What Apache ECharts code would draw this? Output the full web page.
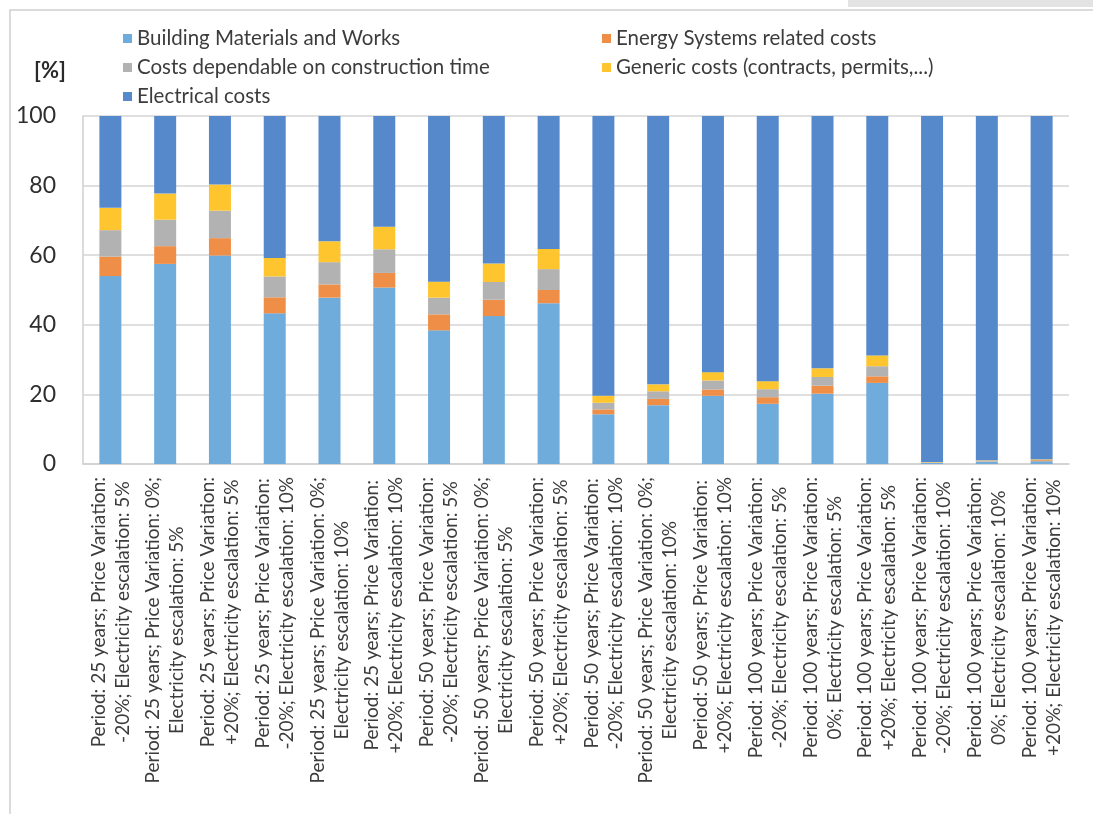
<!DOCTYPE html>
<html>
<head>
<meta charset="utf-8">
<script src="https://cdn.jsdelivr.net/npm/echarts@6/dist/echarts.min.js"></script>
<style>
  html, body { margin: 0; padding: 0; background: #ffffff; }
  #chart { width: 1093px; height: 814px; }
</style>
</head>
<body>
<div id="chart"></div>
<script>
// Scenario labels (line break where the label wraps)
const categories = [
  'Period: 25 years; Price Variation:\n-20%; Electricity escalation: 5%',
  'Period: 25 years; Price Variation: 0%;\nElectricity escalation: 5%',
  'Period: 25 years; Price Variation:\n+20%; Electricity escalation: 5%',
  'Period: 25 years; Price Variation:\n-20%; Electricity escalation: 10%',
  'Period: 25 years; Price Variation: 0%;\nElectricity escalation: 10%',
  'Period: 25 years; Price Variation:\n+20%; Electricity escalation: 10%',
  'Period: 50 years; Price Variation:\n-20%; Electricity escalation: 5%',
  'Period: 50 years; Price Variation: 0%;\nElectricity escalation: 5%',
  'Period: 50 years; Price Variation:\n+20%; Electricity escalation: 5%',
  'Period: 50 years; Price Variation:\n-20%; Electricity escalation: 10%',
  'Period: 50 years; Price Variation: 0%;\nElectricity escalation: 10%',
  'Period: 50 years; Price Variation:\n+20%; Electricity escalation: 10%',
  'Period: 100 years; Price Variation:\n-20%; Electricity escalation: 5%',
  'Period: 100 years; Price Variation:\n0%; Electricity escalation: 5%',
  'Period: 100 years; Price Variation:\n+20%; Electricity escalation: 5%',
  'Period: 100 years; Price Variation:\n-20%; Electricity escalation: 10%',
  'Period: 100 years; Price Variation:\n0%; Electricity escalation: 10%',
  'Period: 100 years; Price Variation:\n+20%; Electricity escalation: 10%'
];

// Cost shares [%] per scenario
const buildingMaterials = [54.0, 57.5, 59.9, 43.3, 47.8, 50.7, 38.4, 42.5, 46.2, 14.3, 16.9, 19.6, 17.3, 20.2, 23.3, 0.3, 0.6, 0.8];
const energySystems     = [5.6, 5.1, 5.0, 4.6, 3.8, 4.2, 4.6, 4.7, 3.8, 1.4, 1.8, 1.8, 1.9, 2.3, 1.9, 0.1, 0.1, 0.3];
const constructionTime  = [7.6, 7.6, 7.9, 6.0, 6.4, 6.8, 4.8, 5.1, 6.0, 1.9, 2.2, 2.6, 2.3, 2.5, 2.9, 0.1, 0.3, 0.2];
const genericCosts      = [6.4, 7.5, 7.5, 5.3, 6.0, 6.5, 4.6, 5.3, 5.8, 2.0, 2.0, 2.4, 2.3, 2.5, 3.1, 0.1, 0.1, 0.1];
const electricalCosts   = [26.4, 22.3, 19.7, 40.8, 36.0, 31.8, 47.6, 42.4, 38.2, 80.4, 77.1, 73.6, 76.2, 72.5, 68.8, 99.4, 98.9, 98.6];

const yTicks = [0, 20, 40, 60, 80, 100];

const seriesNames = [
  'Building Materials and Works',
  'Energy Systems related costs',
  'Costs dependable on construction time',
  'Generic costs (contracts, permits,...)',
  'Electrical costs'
];
const seriesData = [buildingMaterials, energySystems, constructionTime, genericCosts, electricalCosts];
const seriesColors = ['#6FACDB', '#EE8E47', '#B2B2B2', '#FEC52E', '#5689CB'];

const FONT = 'Lato, "Open Sans", sans-serif';
const TEXT = '#3c3c3c';

const chart = echarts.init(document.getElementById('chart'), null, { renderer: 'canvas' });

const legendText = { color: TEXT, fontSize: 20.5, lineHeight: 21, fontFamily: FONT };

chart.setOption({
  animation: false,
  backgroundColor: '#ffffff',
  graphic: [
    { type: 'rect', shape: { x: 848, y: 0, width: 245, height: 7 }, style: { fill: '#e3e3e3' }, silent: true },
    { type: 'polyline', shape: { points: [[10, 814], [10, 10], [1093, 10]] },
      style: { stroke: '#cfcfcf', lineWidth: 1.5, fill: null }, silent: true },
    { type: 'text', left: 34, top: 60,
      style: { text: '[%]', fill: '#2a2a2a', font: 'bold 22px ' + FONT } }
  ],
  legend: [
    {
      orient: 'vertical', left: 118, top: 23, itemGap: 8,
      itemWidth: 9, itemHeight: 9, icon: 'rect',
      textStyle: legendText, selectedMode: false,
      data: [seriesNames[0], seriesNames[2], seriesNames[4]]
    },
    {
      orient: 'vertical', left: 597, top: 23, itemGap: 8,
      itemWidth: 9, itemHeight: 9, icon: 'rect',
      textStyle: legendText, selectedMode: false,
      data: [seriesNames[1], seriesNames[3]]
    }
  ],
  grid: { left: 83, right: 24, top: 116, bottom: 350, containLabel: false },
  xAxis: {
    type: 'category',
    data: categories,
    axisLine: { show: true, lineStyle: { color: '#cfcfcf', width: 1.5 } },
    axisTick: { show: false },
    axisLabel: {
      interval: 0,
      rotate: 90,
      margin: 13,
      color: TEXT,
      fontSize: 19,
      fontFamily: FONT,
      formatter: (v) => v.split('\n').map(s => '{c|' + s + '}').join('\n'),
      rich: {
        c: { align: 'center', fontSize: 19, lineHeight: 24, color: TEXT, fontFamily: FONT }
      }
    }
  },
  yAxis: {
    type: 'value',
    min: yTicks[0],
    max: yTicks[yTicks.length - 1],
    interval: yTicks[1] - yTicks[0],
    axisLine: { show: true, lineStyle: { color: '#cfcfcf', width: 1.5 } },
    axisTick: { show: false },
    splitLine: { show: true, lineStyle: { color: '#d4d4d4', width: 1.5 } },
    axisLabel: { color: '#2e2e2e', fontSize: 23, fontFamily: FONT, margin: 27 }
  },
  series: seriesNames.map((name, i) => ({
    name,
    type: 'bar',
    stack: 'total',
    barWidth: 22,
    data: seriesData[i],
    itemStyle: { color: seriesColors[i] },
    emphasis: { disabled: true }
  }))
});
</script>
</body>
</html>
